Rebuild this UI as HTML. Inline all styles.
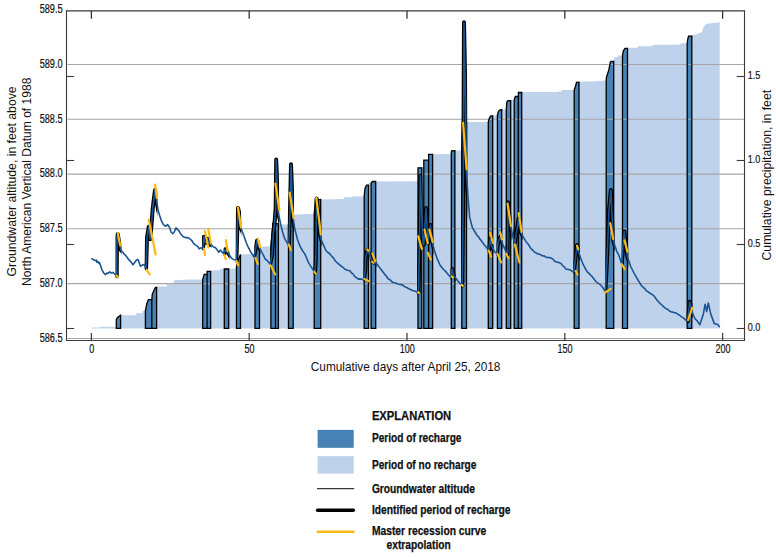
<!DOCTYPE html>
<html><head><meta charset="utf-8"><title>Groundwater altitude and cumulative precipitation</title>
<style>html,body{margin:0;padding:0;background:#fff;}svg{display:block;}</style></head>
<body>
<svg width="776" height="557" viewBox="0 0 776 557">
<rect width="776" height="557" fill="#ffffff"/>
<polygon points="91.4,327.5 100.2,327.5 100.2,326.8 116.3,326.8 116.3,319.7 117.5,317.5 120.6,315.3 136.0,315.3 136.0,313.2 142.5,313.2 142.5,311.0 145.4,310.6 146.9,303.5 148.4,299.6 151.8,299.6 152.3,294.1 155.3,287.5 156.6,287.3 156.6,286.5 166.7,286.5 166.7,284.2 174.0,284.2 174.0,280.3 190.0,279.6 202.7,279.6 204.2,274.4 207.1,274.4 207.1,271.4 210.6,271.4 210.6,270.5 220.0,270.2 220.0,268.8 224.3,268.8 224.3,269.0 228.7,269.0 228.7,268.8 235.0,268.5 235.0,267.5 236.5,267.2 237.5,262.0 240.5,254.4 255.0,254.0 255.5,250.0 259.5,247.0 262.0,246.6 270.9,246.4 272.9,223.3 278.4,223.8 278.4,224.5 288.5,224.5 289.5,215.0 293.2,214.6 293.2,214.8 314.2,213.8 315.5,200.0 320.7,199.4 344.0,199.0 344.0,197.3 352.0,197.3 352.0,196.4 364.2,196.2 364.2,196.0 365.0,188.5 366.5,185.2 368.5,185.2 368.5,183.1 371.1,183.1 372.5,181.5 375.7,181.5 417.6,181.3 418.0,167.8 421.8,167.8 421.8,166.8 423.8,166.8 423.8,160.1 428.6,160.1 428.6,154.3 432.6,154.3 451.3,154.1 451.5,150.8 454.9,150.6 461.8,150.3 462.3,122.0 466.5,121.9 488.3,121.9 489.3,118.5 490.5,116.0 492.7,115.8 497.4,115.2 498.2,112.0 499.2,110.5 500.2,109.8 501.7,109.6 506.3,109.4 506.7,103.0 507.4,100.8 510.7,100.6 514.2,100.1 514.4,99.4 515.3,96.5 518.3,96.4 518.4,92.5 521.7,92.4 521.7,91.9 558.1,91.9 558.1,91.4 561.9,91.4 561.9,90.1 574.2,90.1 575.5,86.3 576.5,82.4 579.0,82.3 579.0,81.7 595.0,81.2 606.2,80.6 606.4,77.4 608.8,70.2 610.3,62.3 611.0,61.3 613.7,61.3 613.7,60.2 614.0,57.3 617.5,57.3 618.0,55.6 622.5,55.6 623.3,51.0 625.0,48.4 627.5,48.4 627.5,48.0 635.0,47.7 637.9,47.7 637.9,46.2 652.4,46.2 652.4,45.1 655.3,45.1 655.3,44.8 679.0,44.8 681.0,43.2 687.2,43.2 687.6,40.0 688.5,36.1 691.8,36.1 691.8,34.9 697.6,34.5 697.6,33.8 701.7,32.3 703.4,27.4 705.0,25.0 706.9,23.7 716.2,22.8 719.7,22.2 719.7,328.4 91.4,328.4" fill="#bfd2ec"/>
<polygon points="116.3,328.4 116.3,319.7 117.5,317.5 120.6,315.3 120.6,328.4" fill="#4682b4"/>
<polygon points="145.4,328.4 145.4,310.6 146.9,303.5 148.4,299.6 151.8,299.6 152.3,294.1 155.3,287.5 156.6,287.3 156.6,328.4" fill="#4682b4"/>
<polygon points="202.7,328.4 202.7,279.6 204.2,274.4 207.1,274.4 207.1,271.4 210.6,271.4 210.6,328.4" fill="#4682b4"/>
<polygon points="224.3,328.4 224.3,269.0 228.7,269.0 228.7,328.4" fill="#4682b4"/>
<polygon points="236.5,328.4 236.5,267.1 237.5,262.0 240.5,254.4 240.5,328.4" fill="#4682b4"/>
<polygon points="255.0,328.4 255.0,253.9 255.5,250.0 259.5,247.0 259.5,328.4" fill="#4682b4"/>
<polygon points="270.9,328.4 270.9,246.3 272.9,223.3 278.4,223.8 278.4,328.4" fill="#4682b4"/>
<polygon points="288.5,328.4 288.5,224.4 289.5,215.0 293.2,214.6 293.2,328.4" fill="#4682b4"/>
<polygon points="314.2,328.4 314.2,213.7 315.5,200.0 320.7,199.4 320.7,328.4" fill="#4682b4"/>
<polygon points="364.2,328.4 364.2,195.9 365.0,188.5 366.5,185.2 368.5,185.2 368.5,328.4" fill="#4682b4"/>
<polygon points="371.1,328.4 371.1,183.1 372.5,181.5 375.7,181.5 375.7,328.4" fill="#4682b4"/>
<polygon points="418.0,328.4 418.0,167.8 421.8,167.8 421.8,328.4" fill="#4682b4"/>
<polygon points="423.8,328.4 423.8,160.1 428.6,160.1 428.6,154.3 432.6,154.3 432.6,328.4" fill="#4682b4"/>
<polygon points="451.3,328.4 451.3,153.9 451.5,150.8 454.9,150.6 454.9,328.4" fill="#4682b4"/>
<polygon points="461.8,328.4 461.8,149.7 462.3,122.0 466.5,121.9 466.5,328.4" fill="#4682b4"/>
<polygon points="488.3,328.4 488.3,121.9 489.3,118.5 490.5,116.0 492.7,115.8 492.7,328.4" fill="#4682b4"/>
<polygon points="497.4,328.4 497.4,115.2 498.2,112.0 499.2,110.5 500.2,109.8 501.7,109.6 501.7,328.4" fill="#4682b4"/>
<polygon points="506.3,328.4 506.3,109.2 506.7,103.0 507.4,100.8 510.7,100.6 510.7,328.4" fill="#4682b4"/>
<polygon points="514.2,328.4 514.2,100.1 514.4,99.4 515.3,96.5 518.3,96.4 518.4,92.5 521.7,92.4 521.7,328.4" fill="#4682b4"/>
<polygon points="574.2,328.4 574.2,90.1 575.5,86.3 576.5,82.4 579.0,82.3 579.0,328.4" fill="#4682b4"/>
<polygon points="606.2,328.4 606.2,80.4 606.4,77.4 608.8,70.2 610.3,62.3 611.0,61.3 613.7,61.3 613.7,328.4" fill="#4682b4"/>
<polygon points="622.5,328.4 622.5,55.5 623.3,51.0 625.0,48.4 627.5,48.4 627.5,328.4" fill="#4682b4"/>
<polygon points="687.2,328.4 687.2,43.1 687.6,40.0 688.5,36.1 691.8,36.1 691.8,328.4" fill="#4682b4"/>
<line x1="67.5" y1="64.5" x2="744" y2="64.5" stroke="#a6a6a6" stroke-width="1.1"/>
<line x1="67.5" y1="119.3" x2="744" y2="119.3" stroke="#a6a6a6" stroke-width="1.1"/>
<line x1="67.5" y1="174.1" x2="744" y2="174.1" stroke="#a6a6a6" stroke-width="1.1"/>
<line x1="67.5" y1="228.8" x2="744" y2="228.8" stroke="#a6a6a6" stroke-width="1.1"/>
<line x1="67.5" y1="283.6" x2="744" y2="283.6" stroke="#a6a6a6" stroke-width="1.1"/>
<line x1="67.5" y1="338.5" x2="744" y2="338.5" stroke="#a6a6a6" stroke-width="1.1"/>
<polygon points="116.3,328.4 116.3,319.7 117.5,317.5 120.6,315.3 120.6,328.4" fill="none" stroke="#000" stroke-width="1.3" stroke-linejoin="miter" stroke-miterlimit="2.5"/>
<polygon points="145.4,328.4 145.4,310.6 146.9,303.5 148.4,299.6 151.8,299.6 152.3,294.1 155.3,287.5 156.6,287.3 156.6,328.4" fill="none" stroke="#000" stroke-width="1.3" stroke-linejoin="miter" stroke-miterlimit="2.5"/>
<line x1="151.8" y1="328.4" x2="151.8" y2="299.6" stroke="#000" stroke-width="1.3"/>
<polygon points="202.7,328.4 202.7,279.6 204.2,274.4 207.1,274.4 207.1,271.4 210.6,271.4 210.6,328.4" fill="none" stroke="#000" stroke-width="1.3" stroke-linejoin="miter" stroke-miterlimit="2.5"/>
<line x1="207.1" y1="328.4" x2="207.1" y2="274.4" stroke="#000" stroke-width="1.3"/>
<polygon points="224.3,328.4 224.3,269.0 228.7,269.0 228.7,328.4" fill="none" stroke="#000" stroke-width="1.3" stroke-linejoin="miter" stroke-miterlimit="2.5"/>
<polygon points="236.5,328.4 236.5,267.1 237.5,262.0 240.5,254.4 240.5,328.4" fill="none" stroke="#000" stroke-width="1.3" stroke-linejoin="miter" stroke-miterlimit="2.5"/>
<polygon points="255.0,328.4 255.0,253.9 255.5,250.0 259.5,247.0 259.5,328.4" fill="none" stroke="#000" stroke-width="1.3" stroke-linejoin="miter" stroke-miterlimit="2.5"/>
<polygon points="270.9,328.4 270.9,246.3 272.9,223.3 278.4,223.8 278.4,328.4" fill="none" stroke="#000" stroke-width="1.3" stroke-linejoin="miter" stroke-miterlimit="2.5"/>
<line x1="275.5" y1="328.4" x2="275.5" y2="223.5" stroke="#000" stroke-width="1.3"/>
<polygon points="288.5,328.4 288.5,224.4 289.5,215.0 293.2,214.6 293.2,328.4" fill="none" stroke="#000" stroke-width="1.3" stroke-linejoin="miter" stroke-miterlimit="2.5"/>
<polygon points="314.2,328.4 314.2,213.7 315.5,200.0 320.7,199.4 320.7,328.4" fill="none" stroke="#000" stroke-width="1.3" stroke-linejoin="miter" stroke-miterlimit="2.5"/>
<polygon points="364.2,328.4 364.2,195.9 365.0,188.5 366.5,185.2 368.5,185.2 368.5,328.4" fill="none" stroke="#000" stroke-width="1.3" stroke-linejoin="miter" stroke-miterlimit="2.5"/>
<polygon points="371.1,328.4 371.1,183.1 372.5,181.5 375.7,181.5 375.7,328.4" fill="none" stroke="#000" stroke-width="1.3" stroke-linejoin="miter" stroke-miterlimit="2.5"/>
<polygon points="418.0,328.4 418.0,167.8 421.8,167.8 421.8,328.4" fill="none" stroke="#000" stroke-width="1.3" stroke-linejoin="miter" stroke-miterlimit="2.5"/>
<polygon points="423.8,328.4 423.8,160.1 428.6,160.1 428.6,154.3 432.6,154.3 432.6,328.4" fill="none" stroke="#000" stroke-width="1.3" stroke-linejoin="miter" stroke-miterlimit="2.5"/>
<line x1="428.6" y1="328.4" x2="428.6" y2="160.1" stroke="#000" stroke-width="1.3"/>
<polygon points="451.3,328.4 451.3,153.9 451.5,150.8 454.9,150.6 454.9,328.4" fill="none" stroke="#000" stroke-width="1.3" stroke-linejoin="miter" stroke-miterlimit="2.5"/>
<polygon points="461.8,328.4 461.8,149.7 462.3,122.0 466.5,121.9 466.5,328.4" fill="none" stroke="#000" stroke-width="1.3" stroke-linejoin="miter" stroke-miterlimit="2.5"/>
<polygon points="488.3,328.4 488.3,121.9 489.3,118.5 490.5,116.0 492.7,115.8 492.7,328.4" fill="none" stroke="#000" stroke-width="1.3" stroke-linejoin="miter" stroke-miterlimit="2.5"/>
<polygon points="497.4,328.4 497.4,115.2 498.2,112.0 499.2,110.5 500.2,109.8 501.7,109.6 501.7,328.4" fill="none" stroke="#000" stroke-width="1.3" stroke-linejoin="miter" stroke-miterlimit="2.5"/>
<polygon points="506.3,328.4 506.3,109.2 506.7,103.0 507.4,100.8 510.7,100.6 510.7,328.4" fill="none" stroke="#000" stroke-width="1.3" stroke-linejoin="miter" stroke-miterlimit="2.5"/>
<polygon points="514.2,328.4 514.2,100.1 514.4,99.4 515.3,96.5 518.3,96.4 518.4,92.5 521.7,92.4 521.7,328.4" fill="none" stroke="#000" stroke-width="1.3" stroke-linejoin="miter" stroke-miterlimit="2.5"/>
<line x1="518.3" y1="328.4" x2="518.3" y2="96.4" stroke="#000" stroke-width="1.3"/>
<polygon points="574.2,328.4 574.2,90.1 575.5,86.3 576.5,82.4 579.0,82.3 579.0,328.4" fill="none" stroke="#000" stroke-width="1.3" stroke-linejoin="miter" stroke-miterlimit="2.5"/>
<polygon points="606.2,328.4 606.2,80.4 606.4,77.4 608.8,70.2 610.3,62.3 611.0,61.3 613.7,61.3 613.7,328.4" fill="none" stroke="#000" stroke-width="1.3" stroke-linejoin="miter" stroke-miterlimit="2.5"/>
<polygon points="622.5,328.4 622.5,55.5 623.3,51.0 625.0,48.4 627.5,48.4 627.5,328.4" fill="none" stroke="#000" stroke-width="1.3" stroke-linejoin="miter" stroke-miterlimit="2.5"/>
<polygon points="687.2,328.4 687.2,43.1 687.6,40.0 688.5,36.1 691.8,36.1 691.8,328.4" fill="none" stroke="#000" stroke-width="1.3" stroke-linejoin="miter" stroke-miterlimit="2.5"/>
<defs><clipPath id="rc">
<rect x="115.5" y="0" width="5.899999999999997" height="400"/>
<rect x="144.6" y="0" width="12.799999999999988" height="400"/>
<rect x="201.89999999999998" y="0" width="9.500000000000005" height="400"/>
<rect x="223.5" y="0" width="5.999999999999977" height="400"/>
<rect x="235.7" y="0" width="5.6" height="400"/>
<rect x="254.2" y="0" width="6.1" height="400"/>
<rect x="270.09999999999997" y="0" width="9.1" height="400"/>
<rect x="287.7" y="0" width="6.299999999999988" height="400"/>
<rect x="313.4" y="0" width="8.1" height="400"/>
<rect x="363.4" y="0" width="5.900000000000011" height="400"/>
<rect x="370.3" y="0" width="6.1999999999999655" height="400"/>
<rect x="417.2" y="0" width="5.400000000000011" height="400"/>
<rect x="423.0" y="0" width="10.400000000000011" height="400"/>
<rect x="450.5" y="0" width="5.1999999999999655" height="400"/>
<rect x="461.0" y="0" width="6.299999999999988" height="400"/>
<rect x="487.5" y="0" width="5.999999999999977" height="400"/>
<rect x="496.59999999999997" y="0" width="5.900000000000011" height="400"/>
<rect x="505.5" y="0" width="5.999999999999977" height="400"/>
<rect x="513.4000000000001" y="0" width="9.1" height="400"/>
<rect x="573.4000000000001" y="0" width="6.399999999999954" height="400"/>
<rect x="605.4000000000001" y="0" width="9.1" height="400"/>
<rect x="621.7" y="0" width="6.6" height="400"/>
<rect x="686.4000000000001" y="0" width="6.199999999999909" height="400"/>
</clipPath></defs>
<polyline points="91.4,258.4 93.5,259.7 95.2,260.6 96.2,260.0 96.8,262.2 97.9,261.4 98.7,263.3 99.5,262.5 100.5,265.4 102.2,270.3 103.8,273.0 105.4,274.6 107.0,273.0 108.1,273.5 109.7,271.9 111.3,273.0 112.9,272.4 114.6,274.0 116.7,276.2 117.0,235.8 117.8,234.2 118.9,241.2 120.3,246.6 121.0,250.3 122.3,251.8 123.7,253.6 125.3,255.1 127.0,257.3 128.6,259.4 130.2,261.1 131.6,262.6 132.9,264.9 134.5,262.7 136.5,260.0 138.0,259.5 140.5,266.2 142.5,265.0 144.3,264.6 146.1,268.2 147.0,237.5 148.8,226.7 150.2,239.2 151.5,224.9 152.7,208.7 154.2,196.2 155.1,189.9 156.0,196.2 156.9,202.4 158.2,210.6 159.8,216.0 161.5,220.9 163.1,224.1 164.7,225.7 165.8,226.3 167.4,224.6 169.5,227.3 171.2,232.2 172.8,233.8 174.4,231.6 176.0,227.9 177.6,229.5 179.2,231.1 180.9,234.3 183.0,236.5 185.2,237.6 187.3,237.6 189.5,238.6 191.6,240.3 193.3,243.0 194.9,244.6 196.5,245.6 197.6,246.2 199.2,248.9 200.8,247.8 201.9,248.3 203.2,247.0 203.9,236.7 204.9,242.7 206.2,242.7 207.5,238.8 208.8,242.7 210.1,244.8 211.8,245.3 213.5,247.0 215.2,247.4 217.0,249.6 218.7,252.2 220.4,250.0 222.1,252.2 223.9,253.9 225.2,249.2 226.4,251.7 227.7,252.6 229.5,255.2 231.2,257.8 232.9,259.1 234.6,259.9 236.4,260.8 237.3,230.0 238.0,208.0 239.0,212.0 240.3,226.6 243.3,234.3 247.1,244.9 248.4,247.5 249.7,249.9 251.0,252.6 252.5,254.4 254.0,257.1 255.5,250.0 257.1,240.4 258.8,246.5 260.4,249.6 261.9,252.7 263.5,255.4 265.1,259.0 267.6,260.9 270.1,264.0 272.0,255.3 273.2,235.2 274.5,223.8 275.7,207.5 276.2,159.5 277.2,185.0 278.2,212.5 280.1,221.3 282.0,230.1 284.5,238.3 287.0,242.7 288.9,244.6 290.0,210.0 291.0,164.2 292.2,195.0 292.8,215.0 294.6,228.0 297.5,239.5 300.0,246.1 302.4,250.5 304.9,254.1 306.5,257.8 308.1,261.8 310.5,265.9 312.9,269.5 315.0,272.7 315.8,260.2 316.6,198.6 318.5,215.0 320.1,234.5 321.4,240.0 323.4,244.9 325.9,250.5 327.9,252.5 330.0,254.0 331.3,255.7 332.6,257.1 334.0,258.8 335.3,261.0 336.7,262.2 338.1,263.8 339.4,264.4 340.8,266.0 342.1,266.6 343.5,268.0 344.9,269.2 346.2,269.7 347.5,270.2 348.9,270.5 350.2,271.0 351.5,273.1 352.9,273.7 354.2,275.8 355.6,277.3 356.9,277.8 358.3,279.1 359.6,278.9 361.0,279.1 362.3,279.4 363.6,279.8 365.3,270.4 365.7,256.9 367.7,249.9 370.4,256.9 372.4,261.6 374.1,262.6 375.8,263.0 377.1,264.2 378.5,266.2 379.8,267.7 381.1,269.6 382.5,271.2 383.8,273.1 385.2,274.9 386.5,276.3 387.9,278.5 389.2,279.2 390.6,280.4 391.9,281.8 393.2,282.5 394.6,282.7 395.9,283.1 397.3,283.8 398.6,284.2 400.0,284.5 401.4,284.6 402.7,285.2 404.1,286.3 405.4,287.0 406.8,287.4 408.1,288.5 409.4,289.1 410.8,289.6 412.1,290.5 413.4,290.6 414.7,291.3 416.0,291.4 417.3,292.6 418.6,292.6 419.5,240.0 420.3,175.5 421.3,200.0 422.5,235.0 423.8,245.0 425.0,225.0 426.0,208.0 427.0,225.0 428.0,243.0 429.3,232.0 430.5,225.0 431.5,235.0 432.2,241.6 434.3,250.2 437.2,258.8 438.6,261.7 440.1,265.3 441.5,266.9 443.0,268.9 444.4,270.3 445.8,271.6 447.3,273.6 448.7,275.3 450.8,277.5 452.3,268.9 453.7,276.0 455.5,277.7 457.3,280.3 459.0,282.2 460.6,284.0 462.3,285.4 463.2,200.0 464.0,22.2 465.5,100.0 466.4,170.8 467.9,196.0 469.7,217.4 472.3,227.3 474.1,230.5 475.9,233.5 477.2,235.7 478.6,236.9 479.9,239.1 481.3,240.7 482.6,242.6 484.0,244.4 485.4,246.1 486.7,247.9 488.9,250.2 490.1,238.7 491.1,244.4 493.2,249.5 495.0,252.0 496.8,253.8 498.2,241.6 500.4,237.2 502.6,243.7 504.7,248.7 506.1,252.0 507.6,254.5 508.0,202.3 509.5,215.0 511.2,228.6 513.3,238.7 514.8,243.0 516.2,234.4 518.5,218.8 519.1,225.0 520.9,232.3 522.2,235.0 523.6,237.7 525.4,240.6 527.2,243.1 528.7,244.8 530.2,247.5 531.7,249.4 533.2,250.7 534.7,252.3 536.2,253.0 537.5,253.9 538.9,253.9 540.2,254.6 541.5,255.3 542.9,256.0 544.2,255.9 545.5,256.9 546.9,257.5 548.4,257.4 549.9,257.7 551.4,258.3 552.9,259.1 554.4,261.0 555.9,261.9 557.2,262.0 558.6,262.5 559.9,263.1 561.3,263.7 562.8,265.9 564.3,266.9 565.8,269.1 567.6,269.3 569.4,269.7 570.9,270.4 572.4,271.5 573.9,271.8 577.1,244.9 579.2,253.9 582.8,263.7 584.3,266.7 585.8,269.5 587.3,271.8 588.8,273.1 590.3,274.7 591.8,276.3 593.1,277.7 594.5,279.8 595.9,281.5 597.2,282.6 598.7,283.5 600.2,284.7 601.7,286.2 603.5,288.6 605.3,291.6 607.0,260.0 609.0,210.0 610.9,190.0 612.0,215.0 613.4,241.3 617.0,252.1 618.6,254.5 621.8,264.2 623.0,245.0 624.2,231.5 625.5,240.0 627.1,255.7 630.7,266.6 632.5,270.0 634.4,273.9 636.2,276.9 638.0,280.0 639.9,283.1 641.7,286.0 643.3,287.4 644.9,288.8 646.5,290.9 648.3,292.0 650.1,293.3 652.0,294.4 653.8,295.7 655.4,297.8 657.0,300.2 658.6,301.8 660.2,303.6 661.9,305.0 663.5,306.6 665.0,307.8 666.5,309.0 668.0,309.5 669.5,311.0 671.0,311.8 672.5,312.1 674.1,312.6 675.6,312.7 677.2,314.0 678.8,314.7 680.4,315.8 682.0,317.1 683.7,318.1 685.3,319.9 687.7,321.2 689.6,301.8 692.1,311.5 693.5,315.2 695.0,318.7 696.6,320.3 698.2,322.3 699.8,324.8 703.4,313.9 705.1,304.2 706.6,311.5 708.3,303.0 710.7,313.9 714.3,323.6 716.1,323.9 718.0,324.8 719.7,327.2" fill="none" stroke="#000" stroke-width="4" stroke-linejoin="round" stroke-linecap="round" clip-path="url(#rc)"/>
<polyline points="91.4,258.4 93.5,259.7 95.2,260.6 96.2,260.0 96.8,262.2 97.9,261.4 98.7,263.3 99.5,262.5 100.5,265.4 102.2,270.3 103.8,273.0 105.4,274.6 107.0,273.0 108.1,273.5 109.7,271.9 111.3,273.0 112.9,272.4 114.6,274.0 116.7,276.2 117.0,235.8 117.8,234.2 118.9,241.2 120.3,246.6 121.0,250.3 122.3,251.8 123.7,253.6 125.3,255.1 127.0,257.3 128.6,259.4 130.2,261.1 131.6,262.6 132.9,264.9 134.5,262.7 136.5,260.0 138.0,259.5 140.5,266.2 142.5,265.0 144.3,264.6 146.1,268.2 147.0,237.5 148.8,226.7 150.2,239.2 151.5,224.9 152.7,208.7 154.2,196.2 155.1,189.9 156.0,196.2 156.9,202.4 158.2,210.6 159.8,216.0 161.5,220.9 163.1,224.1 164.7,225.7 165.8,226.3 167.4,224.6 169.5,227.3 171.2,232.2 172.8,233.8 174.4,231.6 176.0,227.9 177.6,229.5 179.2,231.1 180.9,234.3 183.0,236.5 185.2,237.6 187.3,237.6 189.5,238.6 191.6,240.3 193.3,243.0 194.9,244.6 196.5,245.6 197.6,246.2 199.2,248.9 200.8,247.8 201.9,248.3 203.2,247.0 203.9,236.7 204.9,242.7 206.2,242.7 207.5,238.8 208.8,242.7 210.1,244.8 211.8,245.3 213.5,247.0 215.2,247.4 217.0,249.6 218.7,252.2 220.4,250.0 222.1,252.2 223.9,253.9 225.2,249.2 226.4,251.7 227.7,252.6 229.5,255.2 231.2,257.8 232.9,259.1 234.6,259.9 236.4,260.8 237.3,230.0 238.0,208.0 239.0,212.0 240.3,226.6 243.3,234.3 247.1,244.9 248.4,247.5 249.7,249.9 251.0,252.6 252.5,254.4 254.0,257.1 255.5,250.0 257.1,240.4 258.8,246.5 260.4,249.6 261.9,252.7 263.5,255.4 265.1,259.0 267.6,260.9 270.1,264.0 272.0,255.3 273.2,235.2 274.5,223.8 275.7,207.5 276.2,159.5 277.2,185.0 278.2,212.5 280.1,221.3 282.0,230.1 284.5,238.3 287.0,242.7 288.9,244.6 290.0,210.0 291.0,164.2 292.2,195.0 292.8,215.0 294.6,228.0 297.5,239.5 300.0,246.1 302.4,250.5 304.9,254.1 306.5,257.8 308.1,261.8 310.5,265.9 312.9,269.5 315.0,272.7 315.8,260.2 316.6,198.6 318.5,215.0 320.1,234.5 321.4,240.0 323.4,244.9 325.9,250.5 327.9,252.5 330.0,254.0 331.3,255.7 332.6,257.1 334.0,258.8 335.3,261.0 336.7,262.2 338.1,263.8 339.4,264.4 340.8,266.0 342.1,266.6 343.5,268.0 344.9,269.2 346.2,269.7 347.5,270.2 348.9,270.5 350.2,271.0 351.5,273.1 352.9,273.7 354.2,275.8 355.6,277.3 356.9,277.8 358.3,279.1 359.6,278.9 361.0,279.1 362.3,279.4 363.6,279.8 365.3,270.4 365.7,256.9 367.7,249.9 370.4,256.9 372.4,261.6 374.1,262.6 375.8,263.0 377.1,264.2 378.5,266.2 379.8,267.7 381.1,269.6 382.5,271.2 383.8,273.1 385.2,274.9 386.5,276.3 387.9,278.5 389.2,279.2 390.6,280.4 391.9,281.8 393.2,282.5 394.6,282.7 395.9,283.1 397.3,283.8 398.6,284.2 400.0,284.5 401.4,284.6 402.7,285.2 404.1,286.3 405.4,287.0 406.8,287.4 408.1,288.5 409.4,289.1 410.8,289.6 412.1,290.5 413.4,290.6 414.7,291.3 416.0,291.4 417.3,292.6 418.6,292.6 419.5,240.0 420.3,175.5 421.3,200.0 422.5,235.0 423.8,245.0 425.0,225.0 426.0,208.0 427.0,225.0 428.0,243.0 429.3,232.0 430.5,225.0 431.5,235.0 432.2,241.6 434.3,250.2 437.2,258.8 438.6,261.7 440.1,265.3 441.5,266.9 443.0,268.9 444.4,270.3 445.8,271.6 447.3,273.6 448.7,275.3 450.8,277.5 452.3,268.9 453.7,276.0 455.5,277.7 457.3,280.3 459.0,282.2 460.6,284.0 462.3,285.4 463.2,200.0 464.0,22.2 465.5,100.0 466.4,170.8 467.9,196.0 469.7,217.4 472.3,227.3 474.1,230.5 475.9,233.5 477.2,235.7 478.6,236.9 479.9,239.1 481.3,240.7 482.6,242.6 484.0,244.4 485.4,246.1 486.7,247.9 488.9,250.2 490.1,238.7 491.1,244.4 493.2,249.5 495.0,252.0 496.8,253.8 498.2,241.6 500.4,237.2 502.6,243.7 504.7,248.7 506.1,252.0 507.6,254.5 508.0,202.3 509.5,215.0 511.2,228.6 513.3,238.7 514.8,243.0 516.2,234.4 518.5,218.8 519.1,225.0 520.9,232.3 522.2,235.0 523.6,237.7 525.4,240.6 527.2,243.1 528.7,244.8 530.2,247.5 531.7,249.4 533.2,250.7 534.7,252.3 536.2,253.0 537.5,253.9 538.9,253.9 540.2,254.6 541.5,255.3 542.9,256.0 544.2,255.9 545.5,256.9 546.9,257.5 548.4,257.4 549.9,257.7 551.4,258.3 552.9,259.1 554.4,261.0 555.9,261.9 557.2,262.0 558.6,262.5 559.9,263.1 561.3,263.7 562.8,265.9 564.3,266.9 565.8,269.1 567.6,269.3 569.4,269.7 570.9,270.4 572.4,271.5 573.9,271.8 577.1,244.9 579.2,253.9 582.8,263.7 584.3,266.7 585.8,269.5 587.3,271.8 588.8,273.1 590.3,274.7 591.8,276.3 593.1,277.7 594.5,279.8 595.9,281.5 597.2,282.6 598.7,283.5 600.2,284.7 601.7,286.2 603.5,288.6 605.3,291.6 607.0,260.0 609.0,210.0 610.9,190.0 612.0,215.0 613.4,241.3 617.0,252.1 618.6,254.5 621.8,264.2 623.0,245.0 624.2,231.5 625.5,240.0 627.1,255.7 630.7,266.6 632.5,270.0 634.4,273.9 636.2,276.9 638.0,280.0 639.9,283.1 641.7,286.0 643.3,287.4 644.9,288.8 646.5,290.9 648.3,292.0 650.1,293.3 652.0,294.4 653.8,295.7 655.4,297.8 657.0,300.2 658.6,301.8 660.2,303.6 661.9,305.0 663.5,306.6 665.0,307.8 666.5,309.0 668.0,309.5 669.5,311.0 671.0,311.8 672.5,312.1 674.1,312.6 675.6,312.7 677.2,314.0 678.8,314.7 680.4,315.8 682.0,317.1 683.7,318.1 685.3,319.9 687.7,321.2 689.6,301.8 692.1,311.5 693.5,315.2 695.0,318.7 696.6,320.3 698.2,322.3 699.8,324.8 703.4,313.9 705.1,304.2 706.6,311.5 708.3,303.0 710.7,313.9 714.3,323.6 716.1,323.9 718.0,324.8 719.7,327.2" fill="none" stroke="#1b5694" stroke-width="1.6" stroke-linejoin="round"/>
<polyline points="117.8,233.1 120.3,245.5" fill="none" stroke="#fdb913" stroke-width="2.2" stroke-linecap="round"/>
<polyline points="116.6,275.6 117.8,277.4" fill="none" stroke="#fdb913" stroke-width="2.2" stroke-linecap="round"/>
<polyline points="148.8,219.9 155.6,254.5" fill="none" stroke="#fdb913" stroke-width="2.2" stroke-linecap="round"/>
<polyline points="155.1,184.5 156.9,198.0" fill="none" stroke="#fdb913" stroke-width="2.2" stroke-linecap="round"/>
<polyline points="146.6,269.8 149.7,274.3" fill="none" stroke="#fdb913" stroke-width="2.2" stroke-linecap="round"/>
<polyline points="204.9,231.1 208.3,247.4" fill="none" stroke="#fdb913" stroke-width="2.2" stroke-linecap="round"/>
<polyline points="208.3,229.3 210.9,243.1" fill="none" stroke="#fdb913" stroke-width="2.2" stroke-linecap="round"/>
<polyline points="203.9,248.7 205.1,255.2" fill="none" stroke="#fdb913" stroke-width="2.2" stroke-linecap="round"/>
<polyline points="225.8,240.1 227.7,251.3" fill="none" stroke="#fdb913" stroke-width="2.2" stroke-linecap="round"/>
<polyline points="224.3,254.8 225.8,259.1" fill="none" stroke="#fdb913" stroke-width="2.2" stroke-linecap="round"/>
<polyline points="238.0,207.5 241.0,227.4" fill="none" stroke="#fdb913" stroke-width="2.2" stroke-linecap="round"/>
<polyline points="236.5,261.0 238.3,265.5" fill="none" stroke="#fdb913" stroke-width="2.2" stroke-linecap="round"/>
<polyline points="257.8,238.5 260.1,247.2" fill="none" stroke="#fdb913" stroke-width="2.2" stroke-linecap="round"/>
<polyline points="255.5,257.9 257.8,264.0" fill="none" stroke="#fdb913" stroke-width="2.2" stroke-linecap="round"/>
<polyline points="275.4,183.6 279.4,210.3" fill="none" stroke="#fdb913" stroke-width="2.2" stroke-linecap="round"/>
<polyline points="270.7,265.3 275.2,274.5" fill="none" stroke="#fdb913" stroke-width="2.2" stroke-linecap="round"/>
<polyline points="289.7,192.5 293.6,218.2" fill="none" stroke="#fdb913" stroke-width="2.2" stroke-linecap="round"/>
<polyline points="288.9,244.6 290.8,250.2" fill="none" stroke="#fdb913" stroke-width="2.2" stroke-linecap="round"/>
<polyline points="316.3,197.9 320.9,234.5" fill="none" stroke="#fdb913" stroke-width="2.2" stroke-linecap="round"/>
<polyline points="314.4,272.0 315.8,273.6" fill="none" stroke="#fdb913" stroke-width="2.2" stroke-linecap="round"/>
<polyline points="367.2,249.4 368.2,250.5" fill="none" stroke="#fdb913" stroke-width="2.2" stroke-linecap="round"/>
<polyline points="364.3,279.1 368.4,281.1" fill="none" stroke="#fdb913" stroke-width="2.2" stroke-linecap="round"/>
<polyline points="372.4,253.6 375.1,261.0" fill="none" stroke="#fdb913" stroke-width="2.2" stroke-linecap="round"/>
<polyline points="372.2,261.8 373.4,262.8" fill="none" stroke="#fdb913" stroke-width="2.2" stroke-linecap="round"/>
<polyline points="418.3,236.4 421.8,249.0" fill="none" stroke="#fdb913" stroke-width="2.2" stroke-linecap="round"/>
<polyline points="424.5,229.5 427.7,243.3" fill="none" stroke="#fdb913" stroke-width="2.2" stroke-linecap="round"/>
<polyline points="429.3,229.5 432.7,242.0" fill="none" stroke="#fdb913" stroke-width="2.2" stroke-linecap="round"/>
<polyline points="427.7,252.7 430.8,259.6" fill="none" stroke="#fdb913" stroke-width="2.2" stroke-linecap="round"/>
<polyline points="418.0,292.1 419.2,293.1" fill="none" stroke="#fdb913" stroke-width="2.2" stroke-linecap="round"/>
<polyline points="451.8,276.4 453.0,277.6" fill="none" stroke="#fdb913" stroke-width="2.2" stroke-linecap="round"/>
<polyline points="463.1,122.8 466.6,169.3" fill="none" stroke="#fdb913" stroke-width="2.2" stroke-linecap="round"/>
<polyline points="461.7,284.9 462.9,285.9" fill="none" stroke="#fdb913" stroke-width="2.2" stroke-linecap="round"/>
<polyline points="490.3,232.9 492.9,243.0" fill="none" stroke="#fdb913" stroke-width="2.2" stroke-linecap="round"/>
<polyline points="488.9,250.9 491.1,256.6" fill="none" stroke="#fdb913" stroke-width="2.2" stroke-linecap="round"/>
<polyline points="500.1,232.2 502.1,239.4" fill="none" stroke="#fdb913" stroke-width="2.2" stroke-linecap="round"/>
<polyline points="497.5,253.8 501.1,262.4" fill="none" stroke="#fdb913" stroke-width="2.2" stroke-linecap="round"/>
<polyline points="507.6,203.8 510.9,226.0" fill="none" stroke="#fdb913" stroke-width="2.2" stroke-linecap="round"/>
<polyline points="506.1,253.8 508.3,258.1" fill="none" stroke="#fdb913" stroke-width="2.2" stroke-linecap="round"/>
<polyline points="518.8,213.1 521.6,231.8" fill="none" stroke="#fdb913" stroke-width="2.2" stroke-linecap="round"/>
<polyline points="514.8,244.4 519.4,262.4" fill="none" stroke="#fdb913" stroke-width="2.2" stroke-linecap="round"/>
<polyline points="577.1,245.8 578.3,249.4" fill="none" stroke="#fdb913" stroke-width="2.2" stroke-linecap="round"/>
<polyline points="575.7,270.9 577.5,274.5" fill="none" stroke="#fdb913" stroke-width="2.2" stroke-linecap="round"/>
<polyline points="610.2,223.0 613.1,238.8" fill="none" stroke="#fdb913" stroke-width="2.2" stroke-linecap="round"/>
<polyline points="605.3,292.5 610.7,288.9" fill="none" stroke="#fdb913" stroke-width="2.2" stroke-linecap="round"/>
<polyline points="624.5,240.3 627.4,251.7" fill="none" stroke="#fdb913" stroke-width="2.2" stroke-linecap="round"/>
<polyline points="621.8,264.2 624.7,269.1" fill="none" stroke="#fdb913" stroke-width="2.2" stroke-linecap="round"/>
<polyline points="688.2,320.0 692.1,307.8" fill="none" stroke="#fdb913" stroke-width="2.2" stroke-linecap="round"/>
<line x1="66.5" y1="10.8" x2="744.5" y2="10.8" stroke="#3a3a3a" stroke-width="1.2"/>
<line x1="66.5" y1="340.5" x2="744.5" y2="340.5" stroke="#3a3a3a" stroke-width="1.1"/>
<line x1="66.5" y1="10.2" x2="66.5" y2="341" stroke="#3a3a3a" stroke-width="1.1"/>
<line x1="744.5" y1="10.2" x2="744.5" y2="341" stroke="#3a3a3a" stroke-width="1.1"/>
<line x1="66.5" y1="328.5" x2="74.1" y2="328.5" stroke="#3a3a3a" stroke-width="1.1"/>
<line x1="736.7" y1="328.5" x2="744.5" y2="328.5" stroke="#3a3a3a" stroke-width="1.1"/>
<line x1="66.5" y1="244.5" x2="74.1" y2="244.5" stroke="#3a3a3a" stroke-width="1.1"/>
<line x1="736.7" y1="244.5" x2="744.5" y2="244.5" stroke="#3a3a3a" stroke-width="1.1"/>
<line x1="66.5" y1="160.5" x2="74.1" y2="160.5" stroke="#3a3a3a" stroke-width="1.1"/>
<line x1="736.7" y1="160.5" x2="744.5" y2="160.5" stroke="#3a3a3a" stroke-width="1.1"/>
<line x1="66.5" y1="76.5" x2="74.1" y2="76.5" stroke="#3a3a3a" stroke-width="1.1"/>
<line x1="736.7" y1="76.5" x2="744.5" y2="76.5" stroke="#3a3a3a" stroke-width="1.1"/>
<line x1="91.4" y1="332.9" x2="91.4" y2="340.5" stroke="#444" stroke-width="1.3"/>
<line x1="91.4" y1="10.8" x2="91.4" y2="18.8" stroke="#333" stroke-width="1.3"/>
<line x1="249.2" y1="332.9" x2="249.2" y2="340.5" stroke="#444" stroke-width="1.3"/>
<line x1="249.2" y1="10.8" x2="249.2" y2="18.8" stroke="#333" stroke-width="1.3"/>
<line x1="407.0" y1="332.9" x2="407.0" y2="340.5" stroke="#444" stroke-width="1.3"/>
<line x1="407.0" y1="10.8" x2="407.0" y2="18.8" stroke="#333" stroke-width="1.3"/>
<line x1="564.8" y1="332.9" x2="564.8" y2="340.5" stroke="#444" stroke-width="1.3"/>
<line x1="564.8" y1="10.8" x2="564.8" y2="18.8" stroke="#333" stroke-width="1.3"/>
<line x1="722.6" y1="332.9" x2="722.6" y2="340.5" stroke="#444" stroke-width="1.3"/>
<line x1="722.6" y1="10.8" x2="722.6" y2="18.8" stroke="#333" stroke-width="1.3"/>
<text x="62.6" y="13.0" font-family="'Liberation Sans', Arial, sans-serif" font-size="12" text-anchor="end" textLength="22.9" lengthAdjust="spacingAndGlyphs" fill="#111" stroke="#111" stroke-width="0.2">589.5</text>
<text x="62.6" y="67.8" font-family="'Liberation Sans', Arial, sans-serif" font-size="12" text-anchor="end" textLength="22.9" lengthAdjust="spacingAndGlyphs" fill="#111" stroke="#111" stroke-width="0.2">589.0</text>
<text x="62.6" y="122.6" font-family="'Liberation Sans', Arial, sans-serif" font-size="12" text-anchor="end" textLength="22.9" lengthAdjust="spacingAndGlyphs" fill="#111" stroke="#111" stroke-width="0.2">588.5</text>
<text x="62.6" y="177.4" font-family="'Liberation Sans', Arial, sans-serif" font-size="12" text-anchor="end" textLength="22.9" lengthAdjust="spacingAndGlyphs" fill="#111" stroke="#111" stroke-width="0.2">588.0</text>
<text x="62.6" y="232.1" font-family="'Liberation Sans', Arial, sans-serif" font-size="12" text-anchor="end" textLength="22.9" lengthAdjust="spacingAndGlyphs" fill="#111" stroke="#111" stroke-width="0.2">587.5</text>
<text x="62.6" y="286.9" font-family="'Liberation Sans', Arial, sans-serif" font-size="12" text-anchor="end" textLength="22.9" lengthAdjust="spacingAndGlyphs" fill="#111" stroke="#111" stroke-width="0.2">587.0</text>
<text x="62.6" y="341.7" font-family="'Liberation Sans', Arial, sans-serif" font-size="12" text-anchor="end" textLength="22.9" lengthAdjust="spacingAndGlyphs" fill="#111" stroke="#111" stroke-width="0.2">586.5</text>
<text x="747.7" y="331.1" font-family="'Liberation Sans', Arial, sans-serif" font-size="11.6" textLength="12.6" lengthAdjust="spacingAndGlyphs" fill="#111" stroke="#111" stroke-width="0.2">0.0</text>
<text x="747.7" y="247.0" font-family="'Liberation Sans', Arial, sans-serif" font-size="11.6" textLength="12.6" lengthAdjust="spacingAndGlyphs" fill="#111" stroke="#111" stroke-width="0.2">0.5</text>
<text x="747.7" y="163.1" font-family="'Liberation Sans', Arial, sans-serif" font-size="11.6" textLength="12.6" lengthAdjust="spacingAndGlyphs" fill="#111" stroke="#111" stroke-width="0.2">1.0</text>
<text x="747.7" y="79.2" font-family="'Liberation Sans', Arial, sans-serif" font-size="11.6" textLength="12.6" lengthAdjust="spacingAndGlyphs" fill="#111" stroke="#111" stroke-width="0.2">1.5</text>
<text x="91.7" y="353.4" font-family="'Liberation Sans', Arial, sans-serif" font-size="12" text-anchor="middle" textLength="5.0" lengthAdjust="spacingAndGlyphs" fill="#111" stroke="#111" stroke-width="0.2">0</text>
<text x="249.5" y="353.4" font-family="'Liberation Sans', Arial, sans-serif" font-size="12" text-anchor="middle" textLength="10.0" lengthAdjust="spacingAndGlyphs" fill="#111" stroke="#111" stroke-width="0.2">50</text>
<text x="407.3" y="353.4" font-family="'Liberation Sans', Arial, sans-serif" font-size="12" text-anchor="middle" textLength="15.0" lengthAdjust="spacingAndGlyphs" fill="#111" stroke="#111" stroke-width="0.2">100</text>
<text x="565.1" y="353.4" font-family="'Liberation Sans', Arial, sans-serif" font-size="12" text-anchor="middle" textLength="15.0" lengthAdjust="spacingAndGlyphs" fill="#111" stroke="#111" stroke-width="0.2">150</text>
<text x="722.9" y="353.4" font-family="'Liberation Sans', Arial, sans-serif" font-size="12" text-anchor="middle" textLength="15.0" lengthAdjust="spacingAndGlyphs" fill="#111" stroke="#111" stroke-width="0.2">200</text>
<text x="310.8" y="370.6" font-family="'Liberation Sans', Arial, sans-serif" font-size="13" textLength="189.6" lengthAdjust="spacingAndGlyphs" fill="#111">Cumulative days after April 25, 2018</text>
<text transform="translate(16,276.4) rotate(-90)" font-family="'Liberation Sans', Arial, sans-serif" font-size="13" textLength="190" lengthAdjust="spacingAndGlyphs" fill="#111">Groundwater altitude, in feet above</text>
<text transform="translate(31.4,286) rotate(-90)" font-family="'Liberation Sans', Arial, sans-serif" font-size="12.1" textLength="208.4" lengthAdjust="spacingAndGlyphs" fill="#111">North American Vertical Datum of 1988</text>
<text transform="translate(771,260.5) rotate(-90)" font-family="'Liberation Sans', Arial, sans-serif" font-size="13.3" textLength="170.6" lengthAdjust="spacingAndGlyphs" fill="#111">Cumulative precipitation, in feet</text>
<text x="371.9" y="420.2" font-family="'Liberation Sans', Arial, sans-serif" font-weight="bold" stroke="#111" stroke-width="0.25" font-size="13.2" textLength="79.3" lengthAdjust="spacingAndGlyphs" fill="#111">EXPLANATION</text>
<rect x="317.6" y="429.9" width="36.1" height="17.9" fill="#4682b4"/>
<text x="371.9" y="442.3" font-family="'Liberation Sans', Arial, sans-serif" font-weight="bold" stroke="#111" stroke-width="0.25" font-size="12.1" textLength="89.6" lengthAdjust="spacingAndGlyphs" fill="#111">Period of recharge</text>
<rect x="317.6" y="456.1" width="36.1" height="17.5" fill="#bfd2ec"/>
<text x="371.9" y="468.7" font-family="'Liberation Sans', Arial, sans-serif" font-weight="bold" stroke="#111" stroke-width="0.25" font-size="12.1" textLength="104.5" lengthAdjust="spacingAndGlyphs" fill="#111">Period of no recharge</text>
<line x1="317" y1="488.6" x2="354.2" y2="488.6" stroke="#3a3a3a" stroke-width="1.3"/>
<text x="371.9" y="492.6" font-family="'Liberation Sans', Arial, sans-serif" font-weight="bold" stroke="#111" stroke-width="0.25" font-size="12.1" textLength="103" lengthAdjust="spacingAndGlyphs" fill="#111">Groundwater altitude</text>
<line x1="317.6" y1="510.3" x2="353.3" y2="510.3" stroke="#000" stroke-width="3.4" stroke-linecap="round"/>
<text x="371.9" y="514" font-family="'Liberation Sans', Arial, sans-serif" font-weight="bold" stroke="#111" stroke-width="0.25" font-size="12.1" textLength="138.5" lengthAdjust="spacingAndGlyphs" fill="#111">Identified period of recharge</text>
<line x1="317.7" y1="531.8" x2="353.5" y2="531.8" stroke="#fdb913" stroke-width="2.4" stroke-linecap="round"/>
<text x="371.9" y="535.3" font-family="'Liberation Sans', Arial, sans-serif" font-weight="bold" stroke="#111" stroke-width="0.25" font-size="12.1" textLength="114.4" lengthAdjust="spacingAndGlyphs" fill="#111">Master recession curve</text>
<text x="386.5" y="549.3" font-family="'Liberation Sans', Arial, sans-serif" font-weight="bold" stroke="#111" stroke-width="0.25" font-size="12.1" textLength="64.3" lengthAdjust="spacingAndGlyphs" fill="#111">extrapolation</text>
</svg>
</body></html>
